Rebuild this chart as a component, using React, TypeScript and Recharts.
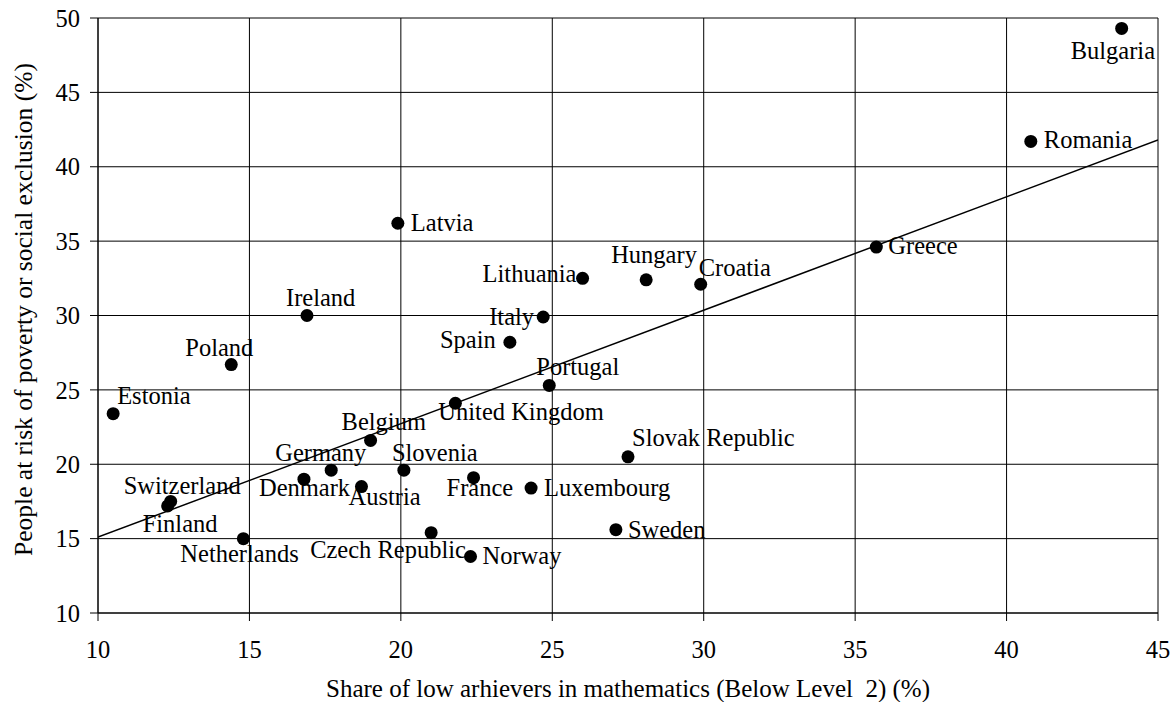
import React from 'react';
import { ScatterChart, Scatter, XAxis, YAxis, CartesianGrid, Label } from 'recharts';

const countries = [
  'Bulgaria', 'Romania', 'Greece', 'Croatia', 'Hungary', 'Lithuania', 'Italy', 'Spain',
  'Portugal', 'United Kingdom', 'Latvia', 'Ireland', 'Poland', 'Estonia', 'Belgium',
  'Germany', 'Denmark', 'Austria', 'Slovenia', 'Switzerland', 'Finland', 'Netherlands',
  'Czech Republic', 'Norway', 'France', 'Luxembourg', 'Sweden', 'Slovak Republic',
];
const lowAchievers = [
  43.8, 40.8, 35.7, 29.9, 28.1, 26.0, 24.7, 23.6,
  24.9, 21.8, 19.9, 16.9, 14.4, 10.5, 19.0,
  17.7, 16.8, 18.7, 20.1, 12.4, 12.3, 14.8,
  21.0, 22.3, 22.4, 24.3, 27.1, 27.5,
];
const povertyRisk = [
  49.3, 41.7, 34.6, 32.1, 32.4, 32.5, 29.9, 28.2,
  25.3, 24.1, 36.2, 30.0, 26.7, 23.4, 21.6,
  19.6, 19.0, 18.5, 19.6, 17.5, 17.2, 15.0,
  15.4, 13.8, 19.1, 18.4, 15.6, 20.5,
];
const xTicks = [10, 15, 20, 25, 30, 35, 40, 45];
const yTicks = [10, 15, 20, 25, 30, 35, 40, 45, 50];
const trendX = [10, 45];
const trendY = [15.1, 41.8];

const xTitle = 'Share of low arhievers in mathematics (Below Level\u00A0 2) (%)';
const yTitle = 'People at risk of poverty or social exclusion (%)';

// label placement (text start dx, baseline dy) relative to the dot, in px
const labelOffsets: Record<string, [number, number]> = {
  'Bulgaria': [-51, 31],
  'Romania': [13, 7],
  'Greece': [12, 7],
  'Croatia': [-2, -8],
  'Hungary': [-35, -17],
  'Lithuania': [-100, 4],
  'Italy': [-54, 8],
  'Spain': [-70, 6],
  'Portugal': [-13, -10],
  'United Kingdom': [-17, 17],
  'Latvia': [13, 8],
  'Ireland': [-21, -10],
  'Poland': [-46, -9],
  'Estonia': [4, -10],
  'Belgium': [-29, -10],
  'Germany': [-56, -9],
  'Denmark': [-45, 17],
  'Austria': [-13, 18],
  'Slovenia': [-12, -9],
  'Switzerland': [-47, -7],
  'Finland': [-25, 26],
  'Netherlands': [-63, 23],
  'Czech Republic': [-121, 25],
  'Norway': [12, 8],
  'France': [-27, 18],
  'Luxembourg': [13, 8],
  'Sweden': [12, 8],
  'Slovak Republic': [4, -11],
};

const FONT = '"Liberation Serif", "Times New Roman", serif';

const data = countries.map((name, i) => ({ name, x: lowAchievers[i], y: povertyRisk[i] }));
const trend = trendX.map((x, i) => ({ x, y: trendY[i] }));

const DotWithLabel = (props: any) => {
  const { cx, cy, payload } = props;
  const off = labelOffsets[payload.name] || [10, 6];
  return (
    <g>
      <text x={cx + off[0]} y={cy + off[1]} fontSize={24.5} fontFamily={FONT} fill="#000">
        {payload.name}
      </text>
      <circle cx={cx} cy={cy} r={6.5} fill="#000" />
    </g>
  );
};

export default function App() {
  return (
    <div style={{ position: 'absolute', left: 0, top: 0, width: 1173, height: 702, background: '#fff' }}>
      <ScatterChart width={1173} height={702} margin={{ top: 18, right: 15, left: 0, bottom: 0 }}>
        <CartesianGrid stroke="#000" strokeWidth={1} />
        <XAxis
          type="number"
          dataKey="x"
          domain={[10, 45]}
          ticks={xTicks}
          interval={0}
          allowDataOverflow
          height={89}
          tickSize={8}
          tickMargin={20}
          axisLine={{ stroke: '#000' }}
          tickLine={{ stroke: '#000' }}
          tick={{ fill: '#000', fontSize: 24.5, fontFamily: FONT }}
        >
          <Label
            content={(p: any) => {
              const vb = p.viewBox;
              return (
                <text x={vb.x + vb.width / 2} y={697} textAnchor="middle"
                  fontSize={25} fontFamily={FONT} fill="#000">{xTitle}</text>
              );
            }}
          />
        </XAxis>
        <YAxis
          type="number"
          dataKey="y"
          domain={[10, 50]}
          ticks={yTicks}
          interval={0}
          allowDataOverflow
          width={98}
          tickSize={8}
          tickMargin={10}
          axisLine={{ stroke: '#000' }}
          tickLine={{ stroke: '#000' }}
          tick={{ fill: '#000', fontSize: 24.5, fontFamily: FONT }}
        >
          <Label
            content={(p: any) => {
              const vb = p.viewBox;
              const x = 23;
              const y = vb.y + vb.height / 2 - 6;
              return (
                <text x={x} y={y} textAnchor="middle" dominantBaseline="central"
                  transform={`rotate(-90, ${x}, ${y})`}
                  fontSize={25.5} fontFamily={FONT} fill="#000">{yTitle}</text>
              );
            }}
          />
        </YAxis>
        <Scatter data={trend} line={{ stroke: '#000', strokeWidth: 1.5 }} shape={() => null} isAnimationActive={false} />
        <Scatter data={data} shape={DotWithLabel} isAnimationActive={false} />
      </ScatterChart>
    </div>
  );
}
